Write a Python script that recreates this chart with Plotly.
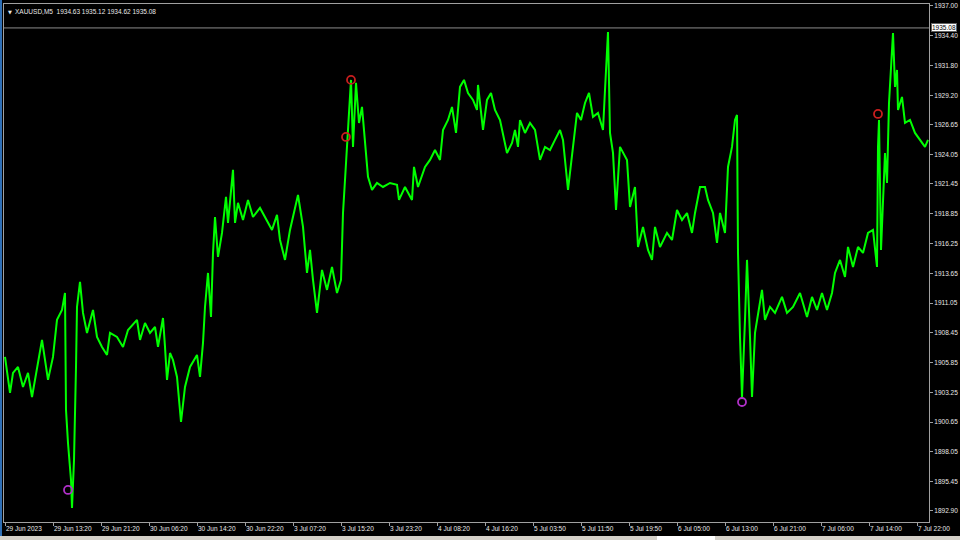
import plotly.graph_objects as go

# ---- data (bar index of M5 chart, close price) ----
bars = [0, 10, 16, 26, 36, 46, 54, 64, 74, 86, 96, 104, 114, 120, 122, 126, 132, 134, 138, 142,
        144, 150, 156, 164, 176, 184, 194, 204, 210, 224, 236, 246, 264, 270, 280, 290, 300, 306,
        316, 320, 324, 330, 336, 344, 352, 360, 370, 384, 390, 396, 400, 406, 412, 416, 420, 426,
        434, 442, 446, 456, 460, 466, 476, 486, 496, 510, 524, 534, 544, 550, 560, 570, 586, 596,
        604, 610, 616, 624, 634, 644, 654, 664, 672, 676, 680, 684, 688, 692, 696, 702, 708, 714,
        720, 726, 734, 744, 756, 770, 784, 788, 800, 814, 818, 826, 840, 850, 860, 870, 876, 886,
        894, 902, 910, 918, 926, 936, 944, 946, 956, 964, 972, 980, 990, 1004, 1014, 1020, 1026,
        1030, 1040, 1050, 1060, 1070, 1080, 1090, 1100, 1110, 1116, 1126, 1136, 1144, 1152, 1160,
        1168, 1176, 1186, 1196, 1200, 1206, 1210, 1216, 1222, 1230, 1244, 1250, 1260, 1266, 1276,
        1286, 1294, 1300, 1310, 1324, 1334, 1344, 1354, 1364, 1374, 1380, 1390, 1400, 1406, 1416,
        1424, 1430, 1440, 1446, 1454, 1460, 1464, 1466, 1470, 1474, 1480, 1484, 1490, 1494, 1500,
        1506, 1514, 1520, 1530, 1540, 1554, 1564, 1576, 1590, 1604, 1614, 1624, 1634, 1644, 1654,
        1660, 1670, 1680, 1686, 1696, 1706, 1716, 1726, 1736, 1744, 1746, 1748, 1752, 1760, 1764,
        1768, 1776, 1780, 1784, 1786, 1794, 1800, 1810, 1820, 1830, 1840, 1846]

close = [1906.35, 1903.20, 1904.95, 1905.47, 1903.72, 1904.95, 1902.85, 1905.47, 1907.83, 1904.34,
         1906.35, 1909.58, 1910.45, 1911.93, 1901.72, 1898.83, 1895.60, 1893.16, 1897.35, 1905.47,
         1910.71, 1912.90, 1910.19, 1908.44, 1910.45, 1908.09, 1907.22, 1906.52, 1908.44, 1908.09,
         1907.22, 1908.70, 1909.58, 1907.83, 1909.31, 1908.44, 1908.96, 1907.22, 1909.75, 1907.22,
         1904.34, 1906.69, 1906.08, 1904.60, 1900.67, 1903.72, 1905.47, 1906.52, 1904.60, 1907.57,
         1910.71, 1913.68, 1909.84, 1915.43, 1918.57, 1915.08, 1917.18, 1920.32, 1918.05, 1922.68,
         1918.05, 1919.80, 1918.31, 1920.06, 1918.57, 1919.36, 1918.31, 1917.44, 1918.75, 1916.56,
         1914.82, 1917.44, 1920.49, 1917.70, 1913.68, 1915.69, 1913.07, 1910.19, 1913.94, 1912.20,
         1914.21, 1911.93, 1913.07, 1918.92, 1921.80, 1925.30, 1927.66, 1930.54, 1924.69, 1930.28,
         1926.78, 1928.18, 1925.03, 1922.07, 1920.93, 1921.54, 1921.19, 1921.54, 1921.37, 1920.06,
         1921.19, 1920.06, 1922.94, 1921.19, 1922.94, 1923.55, 1924.42, 1923.55, 1926.17, 1927.04,
         1928.18, 1925.91, 1929.93, 1930.54, 1929.40, 1928.79, 1927.92, 1930.10, 1926.17, 1928.79,
         1929.40, 1927.92, 1927.04, 1924.16, 1925.03, 1926.17, 1924.69, 1927.04, 1925.91, 1926.78,
         1926.17, 1923.55, 1924.69, 1924.42, 1925.30, 1926.17, 1925.30, 1920.93, 1924.69, 1927.66,
         1927.04, 1928.53, 1929.40, 1927.31, 1927.66, 1926.17, 1929.66, 1934.73, 1925.91, 1924.16,
         1919.18, 1924.69, 1923.55, 1919.45, 1921.19, 1915.95, 1917.70, 1915.69, 1914.82, 1917.70,
         1915.95, 1917.18, 1916.56, 1919.18, 1918.31, 1918.92, 1917.18, 1918.92, 1921.19, 1921.19,
         1920.06, 1918.92, 1916.30, 1918.92, 1917.18, 1922.94, 1924.69, 1927.04, 1927.48, 1915.43,
         1908.09, 1902.85, 1909.58, 1914.82, 1908.09, 1902.85, 1908.44, 1910.19, 1912.20, 1909.58,
         1910.71, 1910.19, 1911.59, 1910.19, 1910.71, 1911.93, 1909.84, 1911.59, 1910.45, 1911.93,
         1910.45, 1911.93, 1913.68, 1914.82, 1913.33, 1915.95, 1914.21, 1915.95, 1915.43, 1917.18,
         1917.44, 1914.21, 1924.69, 1927.04, 1915.69, 1924.16, 1921.54, 1928.53, 1934.64, 1929.93,
         1931.41, 1927.92, 1929.05, 1926.78, 1927.04, 1925.91, 1925.30, 1924.69, 1925.30]

sell_bars = [682, 692, 1746]
sell_prices = [1925.56, 1930.54, 1927.57]
buy_bars = [126, 1474]
buy_prices = [1894.73, 1902.41]

x_tick_bars = [0, 96, 192, 288, 384, 480, 576, 672, 768, 864, 960, 1056, 1152, 1248, 1344,
               1440, 1536, 1632, 1728, 1824]
x_tick_labels = ["29 Jun 2023", "29 Jun 13:20", "29 Jun 21:20", "30 Jun 06:20", "30 Jun 14:20",
                 "30 Jun 22:20", "3 Jul 07:20", "3 Jul 15:20", "3 Jul 23:20", "4 Jul 08:20",
                 "4 Jul 16:20", "5 Jul 03:50", "5 Jul 11:50", "5 Jul 19:50", "6 Jul 05:00",
                 "6 Jul 13:00", "6 Jul 21:00", "7 Jul 06:00", "7 Jul 14:00", "7 Jul 22:00"]
y_tick_vals = [1937.00, 1934.40, 1931.80, 1929.20, 1926.65, 1924.05, 1921.45, 1918.85, 1916.25,
               1913.65, 1911.05, 1908.45, 1905.85, 1903.25, 1900.65, 1898.05, 1895.45, 1892.90]
y_tick_labels = [f"{v:.2f}" for v in y_tick_vals]

symbol = "XAUUSD,M5"
ohlc = [1934.63, 1935.12, 1934.62, 1935.08]
bid_price = 1935.08

FONT = "Liberation Sans"
FS = 6.5
TXT = "#e8e8e8"
GRID = "#a0a0a0"

fig = go.Figure()
fig.add_trace(go.Scatter(x=bars, y=close, mode="lines",
                         line=dict(color="#00ff00", width=2), hoverinfo="skip"))
fig.add_trace(go.Scatter(x=sell_bars, y=sell_prices, mode="markers",
                         marker=dict(symbol="circle-open", size=8, color="#c81e1e",
                                     line=dict(width=1.8, color="#c81e1e"))))
fig.add_trace(go.Scatter(x=buy_bars, y=buy_prices, mode="markers",
                         marker=dict(symbol="circle-open", size=8, color="#b030c8",
                                     line=dict(width=1.8, color="#b030c8"))))

fig.update_layout(
    width=960, height=540,
    margin=dict(l=4, r=31, t=4, b=18, pad=0, autoexpand=False),
    paper_bgcolor="black", plot_bgcolor="black",
    showlegend=False,
    font=dict(family=FONT, size=FS, color=TXT),
    xaxis=dict(range=[-2, 1848], tickvals=x_tick_bars, ticktext=x_tick_labels,
               ticklabelposition="outside right", ticks="outside", ticklen=3,
               tickcolor=GRID, showgrid=False, zeroline=False, showline=True,
               linecolor=GRID, linewidth=1, mirror=True, automargin=False,
               tickfont=dict(family=FONT, size=FS, color=TXT)),
    yaxis=dict(range=[1891.93, 1937.17], side="right", tickvals=y_tick_vals,
               ticktext=y_tick_labels, ticks="outside", ticklen=3, tickcolor=GRID,
               showgrid=False, zeroline=False, showline=True, linecolor=GRID,
               linewidth=1, mirror=True, automargin=False,
               tickfont=dict(family=FONT, size=FS, color=TXT)),
)

# bid price line and label
fig.add_shape(type="line", xref="paper", yref="y", x0=0, x1=1, y0=bid_price, y1=bid_price,
              line=dict(color="#8c8c8c", width=1))
fig.add_annotation(xref="paper", yref="y", x=1, y=bid_price, xanchor="left", yanchor="middle",
                   xshift=2, text=f"{bid_price:.2f}", showarrow=False,
                   font=dict(family=FONT, size=FS, color="black"),
                   bgcolor="white", bordercolor="#606060", borderwidth=1, borderpad=0)

# header text
fig.add_annotation(xref="paper", yref="paper", x=0, y=1, xanchor="left", yanchor="top",
                   xshift=2, yshift=-3, text="▼", showarrow=False,
                   font=dict(family="DejaVu Sans", size=5, color=TXT))
fig.add_annotation(xref="paper", yref="paper", x=0, y=1, xanchor="left", yanchor="top",
                   xshift=9, yshift=-2,
                   text=f"{symbol}  " + " ".join(f"{v:.2f}" for v in ohlc),
                   showarrow=False, font=dict(family=FONT, size=FS, color=TXT))

# window chrome: left blue edge and bottom tab strip
fig.add_shape(type="rect", xref="paper", yref="paper", x0=-4 / 925, x1=-2 / 925, y0=-18 / 518,
              y1=1 + 4 / 518, line=dict(width=0), fillcolor="#2f6fb5", layer="above")
fig.add_shape(type="rect", xref="paper", yref="paper", x0=-4 / 925, x1=1 + 31 / 925,
              y0=-18 / 518, y1=-14 / 518, line=dict(width=0), fillcolor="#d4d0c8")
fig.add_shape(type="rect", xref="paper", yref="paper", x0=(657 - 4) / 925, x1=(715 - 4) / 925,
              y0=-18 / 518, y1=-14 / 518, line=dict(width=0), fillcolor="white")

fig.write_html(
    "out.html",
    config={"displayModeBar": False},
    post_script="document.body.style.margin='0';document.body.style.overflow='hidden';"
                "document.body.style.background='black';",
)
